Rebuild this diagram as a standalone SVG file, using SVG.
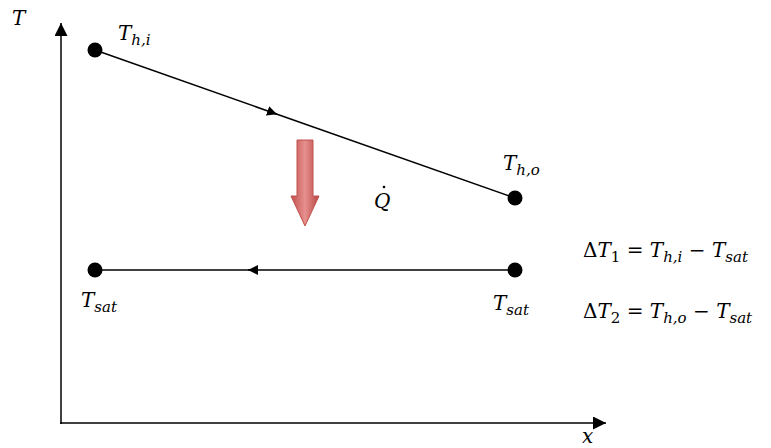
<svg xmlns="http://www.w3.org/2000/svg" width="771" height="448" viewBox="0 0 771 448">
<defs>
<marker id="ah" viewBox="0 0 10 10" refX="10" refY="5" markerWidth="10" markerHeight="10" markerUnits="userSpaceOnUse" orient="auto"><path d="M0,0 L10,5 L0,10 z" fill="#000"/></marker>
<marker id="axh" viewBox="0 0 10 10" refX="10" refY="5" markerWidth="13" markerHeight="13" markerUnits="userSpaceOnUse" orient="auto"><path d="M0,0 L10,5 L0,10 z" fill="#000"/></marker>
<linearGradient id="rg" x1="0" y1="0" x2="1" y2="0"><stop offset="0" stop-color="#c0504d"/><stop offset="0.5" stop-color="#e6908e"/><stop offset="1" stop-color="#b84542"/></linearGradient>
<style>
.m{font-family:"DejaVu Serif","Liberation Serif",serif;font-style:italic;font-size:20px;fill:#000}
.s{font-size:15px}
.u{font-style:normal}
.ln{stroke:#000;stroke-width:1.5;fill:none}
</style>
</defs>
<g id="axes">
<line class="ln" x1="61" y1="424" x2="61" y2="23" marker-end="url(#axh)"/>
<line class="ln" x1="60" y1="423" x2="606" y2="423" marker-end="url(#axh)"/>
<text class="m" x="12" y="25">T</text>
<text class="m" x="582" y="443" font-size="17">x</text>
</g>
<g id="connectors">
<line class="ln" x1="95" y1="50" x2="277" y2="114.2" marker-end="url(#ah)"/>
<line class="ln" x1="270" y1="111.7" x2="515" y2="198"/>
<line class="ln" x1="515" y1="270" x2="248" y2="270" marker-end="url(#ah)"/>
<line class="ln" x1="250" y1="270" x2="95" y2="270"/>
</g>
<g id="n-thi"><circle cx="95" cy="50" r="7.5"/><text class="m" x="118" y="40">T<tspan class="s" dy="5">h,i</tspan></text></g>
<g id="n-tho"><circle cx="515" cy="198" r="7.5"/><text class="m" x="503" y="170">T<tspan class="s" dy="5">h,o</tspan></text></g>
<g id="n-ts1"><circle cx="95" cy="270" r="7.5"/><text class="m" x="81" y="307">T<tspan class="s" dy="5">sat</tspan></text></g>
<g id="n-ts2"><circle cx="515" cy="270" r="7.5"/><text class="m" x="493" y="310">T<tspan class="s" dy="5">sat</tspan></text></g>
<g id="heat">
<path d="M297,140 L313,140 L313,196 L319,196 L305,226 L291,196 L297,196 Z" fill="url(#rg)" stroke="#c0504d" stroke-width="1"/>
<text class="m" x="374" y="208">Q</text>
<circle cx="384" cy="187" r="1.3"/>
</g>
<g id="eq">
<text class="m" x="583" y="257"><tspan class="u">Δ</tspan>T<tspan class="s u" dy="5">1</tspan><tspan dy="-5" class="u"> = </tspan>T<tspan class="s" dy="5">h,i</tspan><tspan dy="-5" class="u"> − </tspan>T<tspan class="s" dy="5">sat</tspan></text>
<text class="m" x="583" y="318"><tspan class="u">Δ</tspan>T<tspan class="s u" dy="5">2</tspan><tspan dy="-5" class="u"> = </tspan>T<tspan class="s" dy="5">h,o</tspan><tspan dy="-5" class="u"> − </tspan>T<tspan class="s" dy="5">sat</tspan></text>
</g>
</svg>
